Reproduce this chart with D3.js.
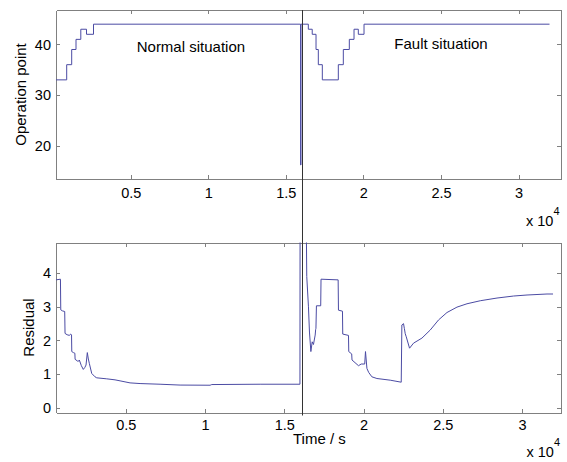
<!DOCTYPE html>
<html>
<head>
<meta charset="utf-8">
<script src="https://cdn.jsdelivr.net/npm/d3@7"></script>
<style>
  body { margin: 0; background: #fff; }
  text { font-family: Arial, "Liberation Sans", Helvetica, sans-serif; }
  .axis path, .axis line { stroke: #808080; shape-rendering: crispEdges; }
  .axis text { fill: #000; font-size: 14.5px; }
</style>
</head>
<body>
<div id="chart"></div>
<script>
// Operation point (step signal), time in s
var opTime  = [180, 870, 1192, 1470, 1779, 2147, 2598, 15950, 15975, 16448, 16700, 16945, 17093, 17351, 18383, 18705, 19092, 19395, 19672, 20040, 32000];
var opValue = [33,  36,  39,   41,   43,   42,   44,   16.2,  44,    43,    42,    39,    36,    33,    36,    39,    41,    43,    42,    44,    44];

// Residual, time in s
var resTime = [600, 880, 900, 1000, 1150, 1170, 1300, 1450, 1520, 1580, 1595, 1700, 1790, 1805, 1950, 2008, 2071, 2200, 2323, 2420,
  2494, 2576, 2640, 2702, 2854, 3062, 3169, 3800, 4324, 4640, 5271, 5903, 7165, 8428, 10322, 10429, 13479, 15990,
  16000, 16380, 16420, 16528, 16591, 16679, 16763, 16843, 16951, 16982, 17000, 17030, 17300, 17320, 18400, 18420,
  18674, 18690, 19053, 19070, 19255, 19275, 19684, 19855, 20076, 20126, 20215, 20328, 20530, 20846, 21686, 22380,
  22420, 22525, 22580, 22633, 22696, 22904, 23157, 23687, 24211, 24735, 25265, 25896, 26528, 27367, 28422, 29470,
  30316, 31578, 31957];
var resValue = [3.80, 3.82, 2.91, 2.88, 2.86, 2.21, 2.17, 2.15, 2.19, 2.17, 1.67, 1.64, 1.62, 1.44, 1.39, 1.38, 1.42, 1.25, 1.14, 1.20,
  1.27, 1.64, 1.45, 1.32, 1.02, 0.92, 0.89, 0.86, 0.83, 0.80, 0.74, 0.72, 0.70, 0.675, 0.67, 0.69, 0.70, 0.70,
  6, 6, 3.9, 3.0, 2.25, 1.67, 1.96, 1.88, 2.16, 2.33, 2.36, 3.03, 3.03, 3.82, 3.80, 2.90,
  2.87, 2.19, 2.15, 1.67, 1.60, 1.42, 1.25, 1.30, 1.30, 1.67, 1.17, 1.05, 0.92, 0.87, 0.82, 0.76,
  2.46, 2.50, 2.35, 2.20, 2.11, 1.77, 1.92, 2.07, 2.31, 2.61, 2.83, 2.99, 3.09, 3.18, 3.26, 3.32,
  3.35, 3.38, 3.38];

// Tick values and labels
var timeTicks = [5000, 10000, 15000, 20000, 25000, 30000];
var timeTickLabels = ["0.5", "1", "1.5", "2", "2.5", "3"];
var opTicks = [20, 30, 40];
var resTicks = [0, 1, 2, 3, 4];

// Fault instant and text annotations
var faultTime = 16050;
var notes = [
  {text: "Normal situation", t: 5384, v: 38.5},
  {text: "Fault situation", t: 21994, v: 39.1}
];

var svgWidth = 567;
var svgHeight = 462;
var plotLeft = 56;
var plotRight = 561;
var topPanel = {top: 10, bottom: 179};
var bottomPanel = {top: 242.5, bottom: 412.5};
var lineColor = "#4b4ba3";

var svg = d3.select("#chart")
  .append("svg")
  .attr("width", svgWidth)
  .attr("height", svgHeight);

// scales
var xTop = d3.scaleLinear().domain([180, 32740]).range([plotLeft, plotRight]);
var yTop = d3.scaleLinear().domain([13.42, 46.8]).range([topPanel.bottom, topPanel.top]);
var xBottom = d3.scaleLinear().domain([600, 32460]).range([plotLeft, plotRight]);
var yBottom = d3.scaleLinear().domain([-0.14, 4.91]).range([bottomPanel.bottom, bottomPanel.top]);

// draw the box of one panel with inward ticks on all sides
function drawAxes(x, y, yTicks, panel, pad) {
  var labels = function(d) { return timeTickLabels[timeTicks.indexOf(d)]; };

  svg.append("g").attr("class", "axis")
    .attr("transform", `translate(0, ${panel.bottom})`)
    .call(d3.axisBottom(x).tickValues(timeTicks).tickFormat(labels)
      .tickSizeInner(-4).tickSizeOuter(0).tickPadding(pad));

  svg.append("g").attr("class", "axis")
    .attr("transform", `translate(0, ${panel.top})`)
    .call(d3.axisTop(x).tickValues(timeTicks).tickFormat("")
      .tickSizeInner(-4).tickSizeOuter(0));

  svg.append("g").attr("class", "axis")
    .attr("transform", `translate(${plotLeft}, 0)`)
    .call(d3.axisLeft(y).tickValues(yTicks).tickFormat(d3.format("d"))
      .tickSizeInner(-4).tickSizeOuter(0).tickPadding(5));

  svg.append("g").attr("class", "axis")
    .attr("transform", `translate(${plotRight}, 0)`)
    .call(d3.axisRight(y).tickValues(yTicks).tickFormat("")
      .tickSizeInner(-4).tickSizeOuter(0));

  svg.selectAll(".axis text").attr("font-family", null);
}

drawAxes(xTop, yTop, opTicks, topPanel, 9);
drawAxes(xBottom, yBottom, resTicks, bottomPanel, 7.5);

// clip regions
var defs = svg.append("defs");
defs.append("clipPath").attr("id", "clipTop").append("rect")
  .attr("x", plotLeft).attr("y", topPanel.top)
  .attr("width", plotRight - plotLeft).attr("height", topPanel.bottom - topPanel.top);
defs.append("clipPath").attr("id", "clipBottom").append("rect")
  .attr("x", plotLeft).attr("y", bottomPanel.top)
  .attr("width", plotRight - plotLeft).attr("height", bottomPanel.bottom - bottomPanel.top);

// operation point line
var opLine = d3.line()
  .x(d => xTop(d[0]))
  .y(d => yTop(d[1]))
  .curve(d3.curveStepAfter);

svg.append("path")
  .datum(d3.zip(opTime, opValue))
  .attr("clip-path", "url(#clipTop)")
  .attr("d", opLine)
  .attr("fill", "none")
  .attr("stroke", lineColor)
  .attr("stroke-width", 1);

// residual line
var resLine = d3.line()
  .x(d => xBottom(d[0]))
  .y(d => yBottom(d[1]));

svg.append("path")
  .datum(d3.zip(resTime, resValue))
  .attr("clip-path", "url(#clipBottom)")
  .attr("d", resLine)
  .attr("fill", "none")
  .attr("stroke", lineColor)
  .attr("stroke-width", 1);

// vertical line at the fault, across both panels
svg.append("line")
  .attr("x1", Math.round(xTop(faultTime)) + 0.5)
  .attr("x2", Math.round(xTop(faultTime)) + 0.5)
  .attr("y1", topPanel.top)
  .attr("y2", bottomPanel.bottom + 3)
  .attr("stroke", "#333")
  .attr("stroke-width", 1);

// annotations
svg.selectAll(".note")
  .data(notes)
  .enter()
  .append("text")
  .attr("class", "note")
  .attr("x", d => xTop(d.t))
  .attr("y", d => yTop(d.v))
  .attr("font-size", "15px")
  .text(d => d.text);

// axis labels
svg.append("text")
  .attr("transform", `translate(25.5, ${(topPanel.top + topPanel.bottom) / 2}) rotate(-90)`)
  .attr("text-anchor", "middle")
  .attr("font-size", "15px")
  .text("Operation point");

svg.append("text")
  .attr("transform", `translate(33.5, ${(bottomPanel.top + bottomPanel.bottom) / 2}) rotate(-90)`)
  .attr("text-anchor", "middle")
  .attr("font-size", "15px")
  .text("Residual");

svg.append("text")
  .attr("x", 293)
  .attr("y", 443.5)
  .attr("font-size", "15px")
  .text("Time / s");

// exponent labels
[[topPanel.bottom + 47, 526], [bottomPanel.bottom + 44, 526.5]].forEach(function(p) {
  var t = svg.append("text")
    .attr("x", p[1])
    .attr("y", p[0])
    .attr("font-size", "14.5px");
  t.append("tspan").text("x 10");
  t.append("tspan").attr("dy", -11).attr("font-size", "11px").text("4");
});
</script>
</body>
</html>
